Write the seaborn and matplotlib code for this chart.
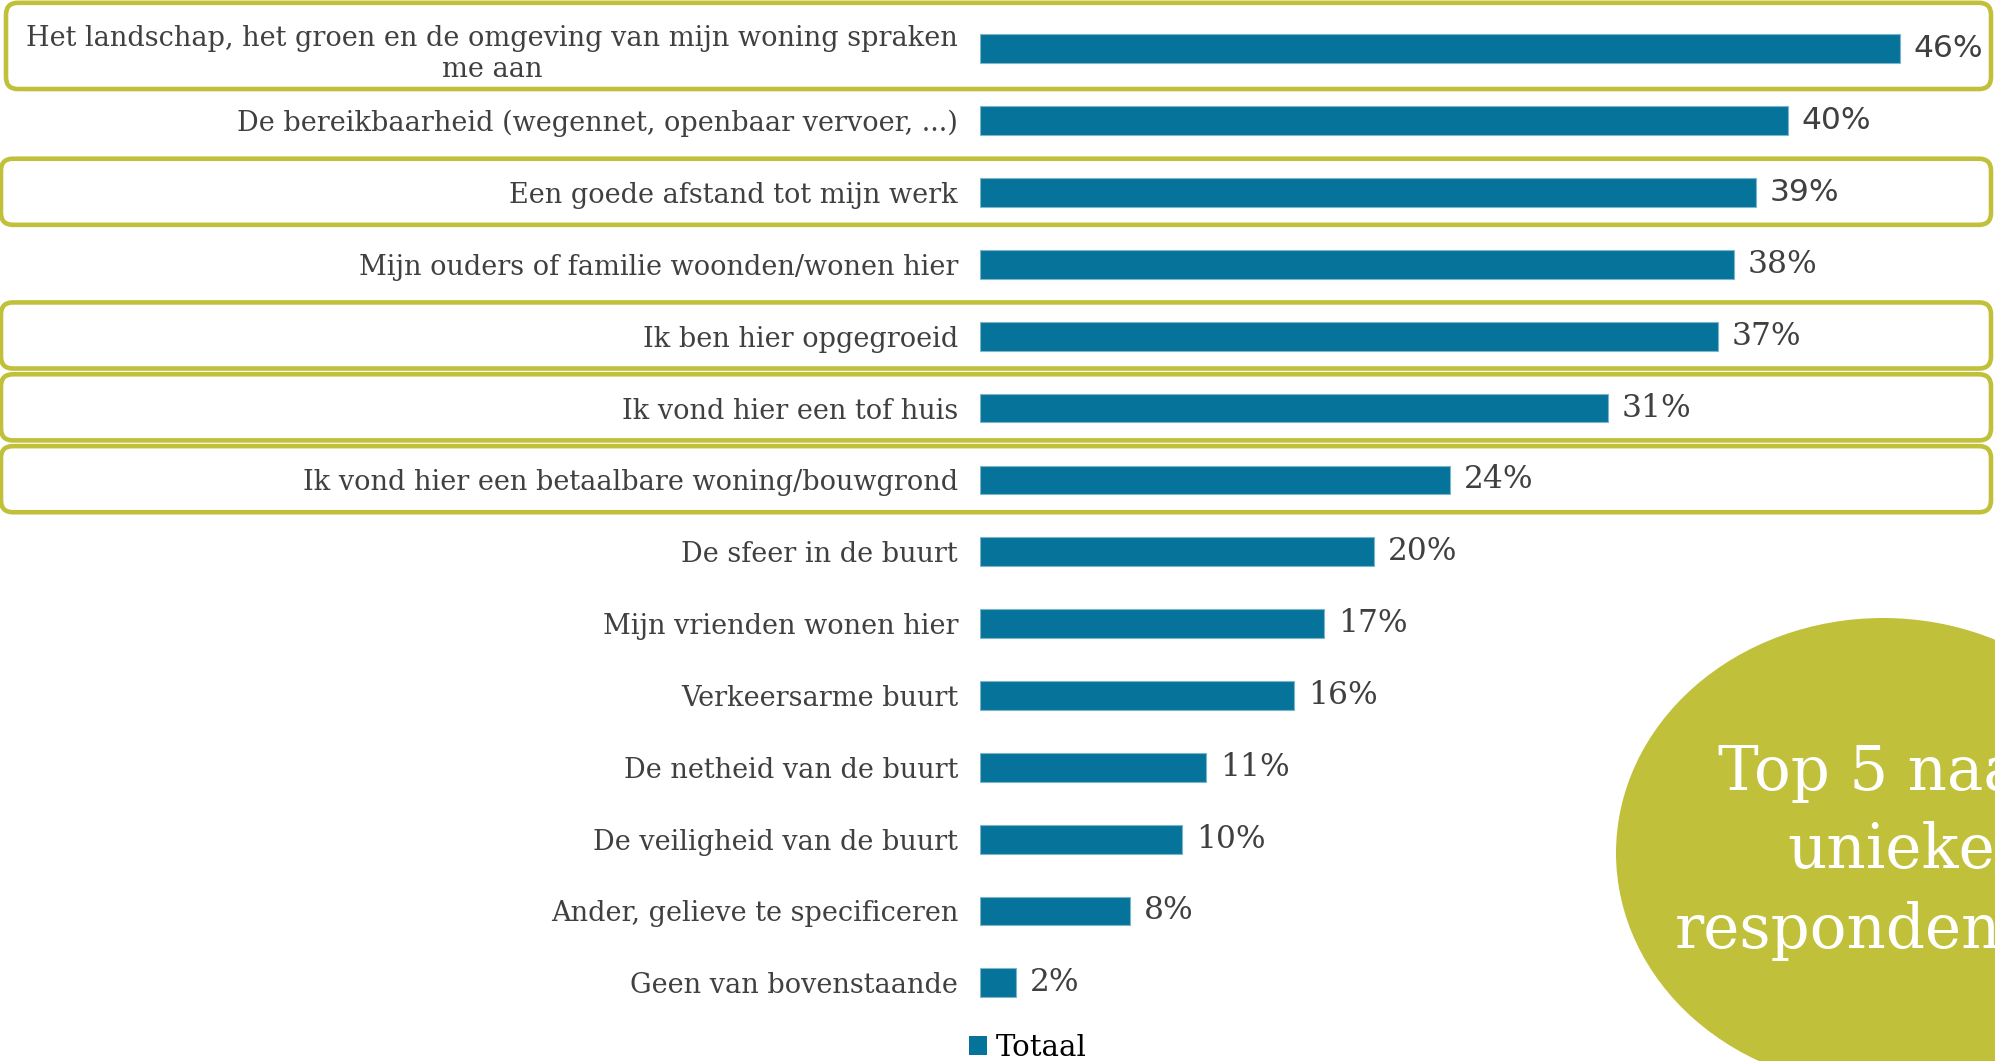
import numpy as np
import pandas as pd
import seaborn as sns
import matplotlib.pyplot as plt
from matplotlib.patches import FancyBboxPatch, Ellipse, Patch

## data ------------------------------------------------------------------------

categories = ['Het landschap, het groen en de omgeving van mijn woning spraken\nme aan',
              'De bereikbaarheid (wegennet, openbaar vervoer, ...)',
              'Een goede afstand tot mijn werk',
              'Mijn ouders of familie woonden/wonen hier',
              'Ik ben hier opgegroeid',
              'Ik vond hier een tof huis',
              'Ik vond hier een betaalbare woning/bouwgrond',
              'De sfeer in de buurt',
              'Mijn vrienden wonen hier',
              'Verkeersarme buurt',
              'De netheid van de buurt',
              'De veiligheid van de buurt',
              'Ander, gelieve te specificeren',
              'Geen van bovenstaande']
totaal = [46.0, 40.4, 38.8, 37.7, 36.9, 31.4, 23.5, 19.7, 17.2, 15.7, 11.3, 10.1, 7.5, 1.8]
value_labels = ['46%', '40%', '39%', '38%', '37%', '31%', '24%', '20%', '17%', '16%',
                '11%', '10%', '8%', '2%']
highlighted = [0, 2, 4, 5, 6]   # top 5 na unieke respondenten
series_name = 'Totaal'
bubble_lines = ['Top 5 naar', 'unieke', 'respondenten']

df = pd.DataFrame({'categorie': categories, 'pct': totaal})

## style -----------------------------------------------------------------------

blue = '#06739a'
green = '#c1c03a'
grey = '#404040'

sns.set_theme(style='white')
plt.rcParams['font.family'] = ['DejaVu Serif']

W, H = 1995, 1061
fig = plt.figure(figsize=(W / 100, H / 100), dpi=100)

# plot area placed so one category row is ~72 px and 1% ~20 px
x0, px_per_pct = 980.3, 19.99
row_px = 71.85
top_px = 48.8 - row_px / 2
ax = fig.add_axes([x0 / W, 1 - (top_px + row_px * len(categories)) / H,
                   50 * px_per_pct / W, row_px * len(categories) / H])

sns.barplot(data=df, x='pct', y='categorie', orient='h', color=blue, width=0.4,
            edgecolor='#7db6cb', linewidth=0.8, saturation=1, ax=ax)
ax.set_xlim(0, 50)
ax.set_ylim(len(categories) - 0.5, -0.5)
ax.set_xlabel('')
ax.set_ylabel('')
ax.set_xticks([])
sns.despine(ax=ax, left=True, bottom=True)
ax.tick_params(axis='y', length=0, pad=16, labelsize=19.5, labelcolor=grey)
for lab in ax.get_yticklabels():
    lab.set_multialignment('center')

# value labels (first three in a sans face, as in the source slide)
for i, (v, txt) in enumerate(zip(totaal, value_labels)):
    fam = 'DejaVu Sans' if i < 3 else 'DejaVu Serif'
    ax.text(v + 0.7, i, txt, va='center', ha='left', fontsize=22.5, color=grey, family=fam)

## highlight boxes around the top-5 rows ---------------------------------------

fig.canvas.draw()
for i in highlighted:
    top = i - (0.64 if i == 0 else 0.47)
    bot = i + (0.56 if i == 0 else 0.45)
    y_top = ax.transData.transform((0, top))[1]
    y_bot = ax.transData.transform((0, bot))[1]
    left = 6 if i == 0 else 1
    box = FancyBboxPatch((left, y_bot), 1991 - left, y_top - y_bot,
                         boxstyle='round,pad=0,rounding_size=12',
                         transform=None, fill=False, edgecolor=green, linewidth=3.3,
                         zorder=0)
    fig.patches.append(box)

## bubble ----------------------------------------------------------------------

bubble = Ellipse((1883, H - 853), 534, 470, transform=None, facecolor=green,
                 edgecolor='none', zorder=1)
fig.patches.append(bubble)
for (bx, by), line in zip([(1718, 790), (1787, 868), (1675, 948)], bubble_lines):
    fig.text(bx / W, 1 - by / H, line, ha='left', va='baseline', fontsize=44,
             color='white', family='DejaVu Serif', zorder=2)

## legend ----------------------------------------------------------------------

fig.legend(handles=[Patch(facecolor=blue, edgecolor='none', label=series_name)],
           loc='center', bbox_to_anchor=(1028 / W, 1 - 1048 / H), frameon=False,
           fontsize=21, handlelength=0.6, handleheight=0.6, handletextpad=0.3,
           borderpad=0, labelcolor='black')

fig.savefig('out.png', dpi=100)
